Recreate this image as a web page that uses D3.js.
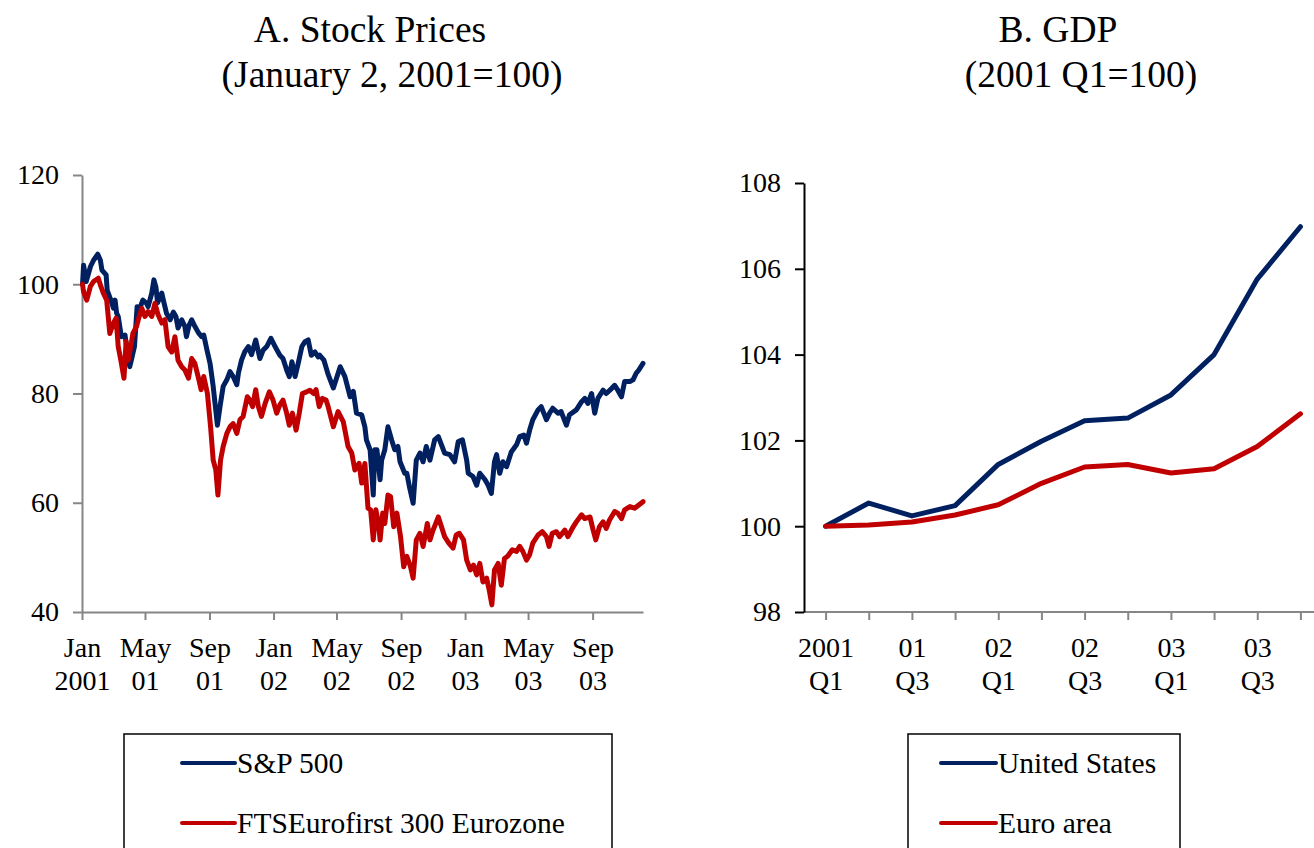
<!DOCTYPE html>
<html>
<head>
<meta charset="utf-8">
<script src="https://cdn.jsdelivr.net/npm/d3@7"></script>
<style>
  body { margin: 0; background: #fff; }
  svg { display: block; font-family: "Liberation Serif", "Times New Roman", serif; }
</style>
</head>
<body>
<svg id="chart" width="1314" height="848"></svg>
<script>
// ---------------- DATA ----------------
const stockTitle = ["A. Stock Prices", "(January 2, 2001=100)"];
const gdpTitle = ["B. GDP", "(2001 Q1=100)"];

const stockSeriesNames = ["S&P 500", "FTSEurofirst 300 Eurozone"];
const gdpSeriesNames = ["United States", "Euro area"];

const stockTickDates = ["2001-01-01","2001-05-01","2001-09-01","2002-01-01","2002-05-01","2002-09-01","2003-01-01","2003-05-01","2003-09-01"];
const stockTickTop = ["Jan","May","Sep","Jan","May","Sep","Jan","May","Sep"];
const stockTickBottom = ["2001","01","01","02","02","02","03","03","03"];
const stockYTicks = [40, 60, 80, 100, 120];

const sp500Dates = ["2001-01-02","2001-01-04","2001-01-09","2001-01-17","2001-01-23","2001-01-31","2001-02-05","2001-02-08","2001-02-16","2001-02-18","2001-02-25","2001-03-02","2001-03-05","2001-03-08","2001-03-11","2001-03-17","2001-03-24","2001-03-27","2001-04-02","2001-04-05","2001-04-11","2001-04-16","2001-04-21","2001-04-27","2001-05-04","2001-05-07","2001-05-14","2001-05-18","2001-05-22","2001-05-25","2001-06-02","2001-06-05","2001-06-11","2001-06-18","2001-06-24","2001-06-29","2001-07-03","2001-07-10","2001-07-16","2001-07-19","2001-07-24","2001-07-29","2001-08-04","2001-08-11","2001-08-17","2001-08-21","2001-08-27","2001-09-02","2001-09-08","2001-09-16","2001-09-21","2001-09-27","2001-10-04","2001-10-10","2001-10-16","2001-10-23","2001-10-26","2001-11-01","2001-11-07","2001-11-14","2001-11-20","2001-11-28","2001-12-06","2001-12-12","2001-12-19","2001-12-27","2002-01-04","2002-01-13","2002-01-19","2002-01-26","2002-01-31","2002-02-05","2002-02-11","2002-02-17","2002-02-24","2002-03-02","2002-03-08","2002-03-14","2002-03-21","2002-03-27","2002-03-30","2002-04-07","2002-04-15","2002-04-25","2002-05-08","2002-05-17","2002-05-27","2002-06-02","2002-06-08","2002-06-18","2002-06-24","2002-06-27","2002-07-04","2002-07-10","2002-07-13","2002-07-17","2002-07-23","2002-07-26","2002-08-01","2002-08-07","2002-08-14","2002-08-20","2002-08-26","2002-08-30","2002-09-08","2002-09-12","2002-09-17","2002-09-24","2002-09-30","2002-10-07","2002-10-13","2002-10-19","2002-10-26","2002-11-04","2002-11-11","2002-11-17","2002-11-23","2002-12-03","2002-12-12","2002-12-19","2002-12-27","2003-01-04","2003-01-07","2003-01-16","2003-01-23","2003-01-29","2003-02-08","2003-02-14","2003-02-20","2003-02-26","2003-03-02","2003-03-08","2003-03-14","2003-03-21","2003-03-30","2003-04-09","2003-04-15","2003-04-23","2003-04-28","2003-05-04","2003-05-10","2003-05-20","2003-05-26","2003-06-05","2003-06-11","2003-06-17","2003-06-27","2003-07-03","2003-07-13","2003-07-19","2003-08-01","2003-08-11","2003-08-17","2003-08-23","2003-08-30","2003-09-05","2003-09-11","2003-09-21","2003-09-27","2003-10-07","2003-10-13","2003-10-19","2003-10-26","2003-11-01","2003-11-11","2003-11-17","2003-11-23","2003-11-28","2003-12-06"];
const sp500Values = [100,103.5,100.5,103.2,104.4,105.5,104.4,102.6,101.7,98.9,97.1,95.6,97.1,94.7,94.1,90.4,90.7,88.6,84.9,86.1,88.6,95.9,95.6,97.1,96.5,95.9,98.4,100.8,99.4,96.6,98.4,97.1,94.7,93.5,94.9,94.1,92,93.5,92.3,90.4,92.5,93.5,92.3,91.1,90.4,90.7,88,85.5,81.3,74.2,77.6,81.3,82.5,84,83.1,81.6,83.7,86.1,87.6,88.6,87.1,89.8,86.4,87.9,88.6,90.1,88.6,87,86.4,84.3,83.1,85.8,83.1,85.5,88.6,89.5,89.8,87,87.6,86.7,87,86.1,83.5,81,84.9,83.1,79.4,80.4,76.4,76.1,73.9,71.5,69.7,61.4,69.7,69.7,64.2,67.8,69.7,73.9,71.5,69.7,70.3,67.5,65.4,65.4,62.9,59.9,67.8,69.1,67.5,70.3,67.8,71.5,72.1,70.6,69.1,68.8,67.5,71.2,71.5,67.8,65.4,64.8,63.2,65.4,64.2,63.2,61.7,67.5,68.8,65.4,67.5,66.6,69.3,70.6,72.1,72.4,70.9,73.3,75.2,77,77.6,75.2,76.4,77.3,76.4,76.7,74.2,76.1,77,78.5,79.1,78.2,80,76.4,79.1,80.6,80,80.9,81.5,80.6,79.4,82.2,82.2,82.5,83.7,84.3,85.5];

const ftseDates = ["2001-01-02","2001-01-04","2001-01-10","2001-01-17","2001-01-23","2001-02-01","2001-02-06","2001-02-11","2001-02-17","2001-02-23","2001-03-02","2001-03-07","2001-03-11","2001-03-16","2001-03-22","2001-03-26","2001-03-30","2001-04-05","2001-04-08","2001-04-15","2001-04-20","2001-04-25","2001-05-01","2001-05-07","2001-05-14","2001-05-20","2001-05-26","2001-06-02","2001-06-08","2001-06-14","2001-06-21","2001-06-27","2001-07-03","2001-07-10","2001-07-16","2001-07-23","2001-07-29","2001-08-04","2001-08-11","2001-08-16","2001-08-21","2001-08-28","2001-09-03","2001-09-08","2001-09-13","2001-09-17","2001-09-22","2001-09-27","2001-10-04","2001-10-10","2001-10-16","2001-10-23","2001-10-29","2001-11-04","2001-11-12","2001-11-17","2001-11-22","2001-11-28","2001-12-03","2001-12-09","2001-12-16","2001-12-24","2001-12-31","2002-01-07","2002-01-13","2002-01-19","2002-01-26","2002-01-31","2002-02-06","2002-02-13","2002-02-19","2002-02-25","2002-03-05","2002-03-11","2002-03-18","2002-03-23","2002-03-29","2002-04-04","2002-04-11","2002-04-15","2002-04-25","2002-05-04","2002-05-14","2002-05-23","2002-05-30","2002-06-05","2002-06-13","2002-06-18","2002-06-24","2002-06-30","2002-07-05","2002-07-10","2002-07-15","2002-07-20","2002-07-23","2002-07-28","2002-08-01","2002-08-07","2002-08-12","2002-08-18","2002-08-24","2002-08-31","2002-09-06","2002-09-12","2002-09-19","2002-09-24","2002-09-30","2002-10-07","2002-10-13","2002-10-21","2002-10-26","2002-11-01","2002-11-11","2002-11-17","2002-11-23","2002-12-01","2002-12-09","2002-12-15","2002-12-21","2002-12-29","2003-01-04","2003-01-11","2003-01-17","2003-01-23","2003-01-29","2003-02-04","2003-02-11","2003-02-16","2003-02-21","2003-02-26","2003-03-05","2003-03-11","2003-03-17","2003-03-23","2003-04-01","2003-04-09","2003-04-15","2003-04-21","2003-04-28","2003-05-04","2003-05-10","2003-05-20","2003-05-28","2003-06-05","2003-06-10","2003-06-16","2003-06-24","2003-06-30","2003-07-10","2003-07-16","2003-07-26","2003-08-01","2003-08-11","2003-08-17","2003-08-27","2003-09-02","2003-09-07","2003-09-14","2003-09-21","2003-09-27","2003-10-03","2003-10-13","2003-10-19","2003-10-26","2003-11-01","2003-11-11","2003-11-20","2003-11-28","2003-12-06"];
const ftseValues = [100,98.6,97.1,99.6,100.5,101.1,99.6,98.3,97.1,91,92.9,93.8,88.6,86.1,82.8,89.5,86.1,89.2,91,92.3,94.1,95.6,94.1,95,94.1,96.5,94.4,92.9,93.5,88.6,87.6,90.4,86.1,84.9,84.3,82.8,86.4,85.5,82.8,80.7,83.1,80,73.9,67.8,66,61.4,67.8,70.3,72.7,73.9,74.5,72.7,75.2,75.8,79.4,78.8,77.6,80.7,77.6,75.8,78.2,80.3,78.8,76.4,77.9,78.8,76.4,74.2,76.4,73.3,76.4,80,80.3,80.6,80,80.7,77.6,79.1,78.8,77.6,73.9,76.7,74.8,70.3,69.1,66,67.2,63.6,67.2,59,58.7,53.2,58.7,56.2,53.2,58.1,56.2,61.4,61.1,55.6,58.1,53.8,48.3,50.2,48.3,46.2,53.2,54.4,52,56.2,53.2,55,57.4,55.6,53.8,52.6,51.7,54.1,54.4,53.2,49.5,47.7,48.6,46.8,48.9,45.5,46.2,44,41.3,47.7,48.9,44.9,49.8,50.2,51.4,51.1,52,51.1,49.5,50.5,52.6,54.1,54.7,53.8,52,54.4,54.7,53.8,55,53.8,55.6,56.5,57.8,57.1,57.4,55,53.2,55.6,56.5,55.3,56.8,58.4,58.1,57.1,58.7,59.3,59,59.6,60.2];

const gdpQuarters = ["2001Q1","2001Q2","2001Q3","2001Q4","2002Q1","2002Q2","2002Q3","2002Q4","2003Q1","2003Q2","2003Q3","2003Q4"];
const gdpTickTop = ["2001","","01","","02","","02","","03","","03",""];
const gdpTickBottom = ["Q1","","Q3","","Q1","","Q3","","Q1","","Q3",""];
const gdpYTicks = [98, 100, 102, 104, 106, 108];
const usGdp = [100, 100.54, 100.24, 100.48, 101.44, 101.98, 102.46, 102.52, 103.06, 104.0, 105.76, 106.98];
const euroGdp = [100, 100.03, 100.10, 100.26, 100.50, 101.00, 101.38, 101.44, 101.24, 101.34, 101.86, 102.62];

// ---------------- STYLE ----------------
const BLUE = "#002060", RED = "#C00000", GRAY = "#868686";
const FONT = 28, LEGEND_FONT = 29.5;

const svg = d3.select("#chart");
svg.append("rect").attr("width", 1314).attr("height", 848).attr("fill", "#fff");
const parse = d3.timeParse("%Y-%m-%d");

// ---------------- TITLES ----------------
function title(lines, cx1, cx2) {
  svg.append("text").attr("x", cx1).attr("y", 42).attr("text-anchor", "middle")
    .attr("font-size", 37.5).text(lines[0]);
  svg.append("text").attr("x", cx2).attr("y", 87).attr("text-anchor", "middle")
    .attr("font-size", 37.5).text(lines[1]);
}
title(stockTitle, 370, 392);
title(gdpTitle, 1058, 1081);

// ---------------- PANEL A ----------------
const xA = d3.scaleTime().domain([parse("2001-01-01"), parse("2003-12-06")]).range([82, 643]);
const yA = d3.scaleLinear().domain([40, 120]).range([612, 175]);

const gA = svg.append("g");
const yAxisA = gA.append("g").attr("transform", "translate(82,0)")
  .call(d3.axisLeft(yA).tickValues(stockYTicks).tickSize(9).tickPadding(14).tickSizeOuter(0));
const xAxisA = gA.append("g").attr("transform", "translate(0,612)")
  .call(d3.axisBottom(xA).tickValues(stockTickDates.map(parse)).tickSize(8).tickSizeOuter(0).tickFormat(""));
[yAxisA, xAxisA].forEach(ax => {
  ax.select(".domain").attr("stroke", GRAY).attr("stroke-width", 2);
  ax.selectAll(".tick line").attr("stroke", GRAY).attr("stroke-width", 2);
  ax.selectAll("text").attr("font-size", FONT).attr("font-family", "Liberation Serif").attr("fill", "#000");
});
xAxisA.selectAll(".tick").each(function(d, i) {
  const t = d3.select(this).append("text").attr("text-anchor", "middle")
    .attr("font-size", FONT).attr("font-family", "Liberation Serif").attr("fill", "#000");
  t.append("tspan").attr("x", 0).attr("y", 45).text(stockTickTop[i]);
  t.append("tspan").attr("x", 0).attr("y", 78).text(stockTickBottom[i]);
});

const lineA = d3.line().x(d => xA(d[0])).y(d => yA(d[1])).curve(d3.curveLinear);
const spData = sp500Dates.map((d, i) => [parse(d), sp500Values[i]]);
const ftData = ftseDates.map((d, i) => [parse(d), ftseValues[i]]);
gA.append("path").datum(spData).attr("d", lineA).attr("fill", "none").attr("stroke", BLUE)
  .attr("stroke-width", 5).attr("stroke-linejoin", "round").attr("stroke-linecap", "round");
gA.append("path").datum(ftData).attr("d", lineA).attr("fill", "none").attr("stroke", RED)
  .attr("stroke-width", 5).attr("stroke-linejoin", "round").attr("stroke-linecap", "round");

// ---------------- PANEL B ----------------
const xB = d3.scalePoint().domain(gdpQuarters).range([804, 1322]).padding(0.5);
const yB = d3.scaleLinear().domain([98, 108]).range([612, 183]);
const gB = svg.append("g");
const xAxisB = gB.append("g").attr("transform", "translate(0,612)")
  .call(d3.axisBottom(xB).tickSize(8).tickSizeOuter(0).tickFormat(""));
xAxisB.select(".domain").attr("d", "M804,0H1322").attr("stroke", GRAY).attr("stroke-width", 2);
xAxisB.selectAll(".tick line").attr("stroke", GRAY).attr("stroke-width", 2);
xAxisB.selectAll(".tick").each(function(d, i) {
  if (!gdpTickTop[i]) return;
  const t = d3.select(this).append("text").attr("text-anchor", "middle")
    .attr("font-size", FONT).attr("font-family", "Liberation Serif").attr("fill", "#000");
  t.append("tspan").attr("x", 0).attr("y", 45).text(gdpTickTop[i]);
  t.append("tspan").attr("x", 0).attr("y", 78).text(gdpTickBottom[i]);
});
const yAxisB = gB.append("g").attr("transform", "translate(804,0)")
  .call(d3.axisLeft(yB).tickValues(gdpYTicks).tickSize(9).tickPadding(14).tickSizeOuter(0));
yAxisB.select(".domain").attr("stroke", "#000").attr("stroke-width", 2);
yAxisB.selectAll(".tick line").attr("stroke", "#000").attr("stroke-width", 2);
yAxisB.selectAll("text").attr("font-size", FONT).attr("font-family", "Liberation Serif").attr("fill", "#000");

const lineB = d3.line().x((d, i) => xB(gdpQuarters[i])).y(d => yB(d));
gB.append("path").datum(usGdp).attr("d", lineB).attr("fill", "none").attr("stroke", BLUE)
  .attr("stroke-width", 5).attr("stroke-linejoin", "round").attr("stroke-linecap", "round");
gB.append("path").datum(euroGdp).attr("d", lineB).attr("fill", "none").attr("stroke", RED)
  .attr("stroke-width", 5).attr("stroke-linejoin", "round").attr("stroke-linecap", "round");

// ---------------- LEGENDS ----------------
function legend(x0, x1, lx0, lx1, names) {
  const g = svg.append("g");
  g.append("rect").attr("x", x0).attr("y", 734).attr("width", x1 - x0).attr("height", 140)
    .attr("fill", "#fff").attr("stroke", "#000").attr("stroke-width", 1.5);
  const ys = [763, 823];
  names.forEach((n, i) => {
    g.append("line").attr("x1", lx0).attr("x2", lx1).attr("y1", ys[i]).attr("y2", ys[i])
      .attr("stroke", i === 0 ? BLUE : RED).attr("stroke-width", 4).attr("stroke-linecap", "round");
    g.append("text").attr("x", lx1 + 2).attr("y", ys[i] + 10).attr("font-size", LEGEND_FONT).text(n);
  });
}
legend(124, 612, 182, 235, stockSeriesNames);
legend(908, 1180, 941, 996, gdpSeriesNames);
</script>
</body>
</html>
